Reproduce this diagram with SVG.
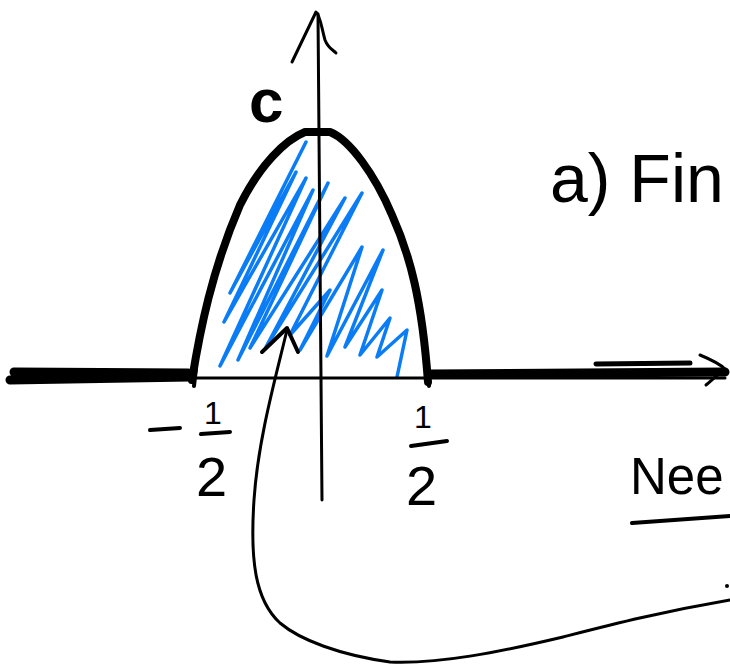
<svg xmlns="http://www.w3.org/2000/svg" width="730" height="664" viewBox="0 0 730 664">
<style>
.ink{fill:none;stroke:#000;stroke-linecap:round;stroke-linejoin:round}
.thin{stroke-width:3}
.thick{stroke-width:8}
.hatch{fill:none;stroke:#0a7cf5;stroke-width:3.5;stroke-linecap:round;stroke-linejoin:round}
.t{font-family:"Liberation Sans","DejaVu Sans",sans-serif;fill:#000}
</style>
<rect width="730" height="664" fill="#fff"/>
<g id="hatching">
<path class="hatch" d="M306,142 L230,293 L296,172 L224,322 L306,178 L220,366 L313,190 L238,360 L328,183 L250,348 L345,198 L266,347 L362,193 L290,335 L330,290 L300,350 L362,247 L327,356 L383,250 L345,347 L382,290 L360,355 L390,318 L377,357 L407,330 L397,377"/>
</g>
<g id="axes">
<path class="ink thin" d="M322,500 C321,350 318,200 318,14"/>
<path class="ink thin" d="M292,62 L316,12 C320,14 322,30 325,40 C328,48 333,50 336,53"/>
<path class="ink thin" d="M190,378 L725,378"/>
<path class="ink" stroke-width="9" d="M10,380 L190,377 M14,372 L188,373"/>
<path class="ink" stroke-width="9" d="M430,374 L725,372"/>
<path class="ink" stroke-width="5" d="M596,364 L690,363"/>
<path class="ink thin" d="M700,355 C712,360 720,364 725,369 C718,374 712,380 706,385"/>
</g>
<g id="curve">
<path class="ink thick" d="M192,380 C200,330 212,270 240,205 C260,165 285,140 305,132 L330,132 C350,140 375,175 392,215 C410,255 422,300 428,382"/>
<path class="ink" stroke-width="4" d="M196,368 L194,386 M428,368 L429,386"/>
</g>
<g id="labels">
<text class="t" x="249" y="122" font-size="62" font-weight="bold">c</text>
<path class="ink" stroke-width="4" d="M150,430 L180,428"/>
<text class="t" x="204" y="424" font-size="32">1</text>
<path class="ink" stroke-width="4" d="M201,434 L230,432"/>
<text class="t" x="196" y="496" font-size="56">2</text>
<text class="t" x="414" y="428" font-size="32">1</text>
<path class="ink" stroke-width="4" d="M411,446 L447,441"/>
<text class="t" x="406" y="505" font-size="56">2</text>
<text class="t" x="550" y="202" font-size="68">a) Fin</text>
<text class="t" x="630" y="494" font-size="51">Nee</text>
<path class="ink" stroke-width="4" d="M632,523 L730,516"/>
</g>
<g id="connectors">
<path class="ink thin" d="M287,330 C275,380 258,440 254,500 C250,560 255,600 280,623 C300,640 340,655 390,662 C440,664 500,652 563,637 C610,625 660,612 730,600"/>
<path class="ink" stroke-width="4" d="M262,352 L287,328 L298,352"/>
<circle cx="727" cy="586" r="2" fill="#000"/>
</g>
</svg>
